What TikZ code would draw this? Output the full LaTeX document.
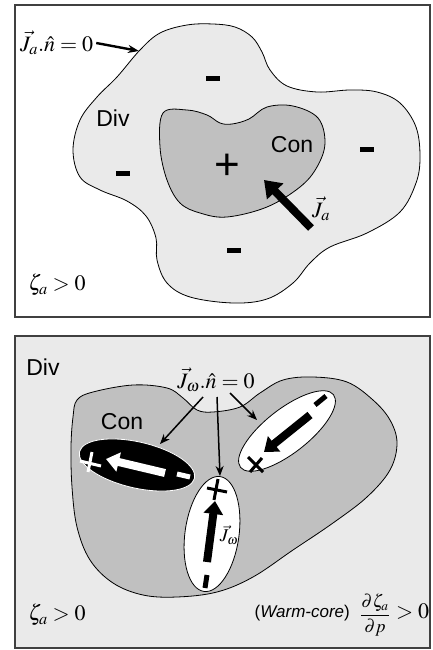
\documentclass[tikz,border=0pt]{standalone}
\usepackage{mathptmx}
\usepackage{fontspec}
\setmainfont{Liberation Sans}
\usetikzlibrary{arrows.meta,calc}
\definecolor{lightfill}{HTML}{EAEAEA}
\definecolor{midfill}{HTML}{C0C0C0}
\definecolor{framecol}{HTML}{404040}
\tikzset{
  frame/.style={draw=framecol, line width=1.2pt},
  blob/.style={draw=black, line width=0.8pt},
  lbl/.style={font=\fontsize{23}{26}\selectfont, inner sep=0pt},
  mth/.style={font=\fontsize{22}{26}\selectfont, inner sep=0pt},
  minusbar/.style={fill=black, minimum width=14pt, minimum height=5pt, inner sep=0pt},
  thinarrow/.style={line width=1.5pt, -{Stealth[length=10pt,width=8pt]}},
  toparrow/.style={line width=2.4pt, -{Stealth[length=11pt,width=8pt]}},
  fatarrow/.style={line width=8pt, -{Triangle[length=16pt,width=22pt]}},
  midarrow/.style={line width=8pt, -{Triangle[length=13pt,width=19pt]}},
  crossline/.style={line width=3pt},
}
\begin{document}
\begin{tikzpicture}[x=1pt,y=-1pt]
\useasboundingbox (0,0) rectangle (433,650);
% ---------- top panel ----------
\draw[frame, fill=white] (15,5) rectangle (430,317);
\draw[blob, fill=lightfill] plot[smooth cycle, tension=0.6] coordinates {
 (140,50) (160,33) (187,25) (213,24) (235,27) (252,37) (262,52) (270,70) (287,86) (317,92)
 (350,90) (377,92) (400,103) (416,127) (420,157) (416,183) (400,212) (367,233)
 (330,247) (310,263) (293,283) (267,299) (233,303) (190,297) (167,283) (157,260)
 (156,238) (146,216) (127,201) (100,190) (80,177) (73,150) (80,120) (97,97) (117,77)};
\draw[blob, fill=midfill] plot[smooth cycle, tension=0.6] coordinates {
 (163,113) (187,110) (207,115) (220,123) (232,124) (249,119) (267,107) (293,106)
 (318,118) (325,143) (317,167) (300,187) (267,207) (227,217) (200,213) (180,203)
 (167,180) (160,147)};
\node[mth, anchor=west] (jn) at (20,43) {$\vec{J}_a.\hat{n}=0$};
\coordinate (jnend) at (139,51);
\draw[toparrow] (jn.east) ++(3,0) -- (jnend);
\node[lbl] (div1) at (113,118) {Div};
\node[lbl] (con1) at (292,145) {Con};
\node[font=\fontsize{44}{44}\selectfont, inner sep=0pt] (plus1) at (227,167) {+};
\node[minusbar] (m1) at (213,79) {};
\node[minusbar] (m2) at (123,173) {};
\node[minusbar] (m3) at (367,149) {};
\node[minusbar] (m4) at (234,250) {};
\coordinate (jatail) at (311,228);
\coordinate (jahead) at (264,180);
\draw[fatarrow] (jatail) -- (jahead);
\node[mth] (ja) at (321,209) {$\vec{J}_a$};
\node[mth] (zeta1) at (57,285) {$\zeta_a>0$};
% ---------- bottom panel ----------
\draw[frame, fill=lightfill] (15,336) rectangle (430,648);
\node[lbl] (div2) at (43,367) {Div};
\draw[blob, fill=midfill] plot[smooth cycle, tension=0.6] coordinates {
 (77,400) (93,392) (133,385) (167,388) (183,398) (197,410) (213,412) (240,407)
 (260,393) (283,380) (313,377) (347,382) (373,400) (390,420) (397,443) (390,470)
 (367,497) (333,523) (293,550) (253,577) (217,592) (177,597) (143,595) (113,583)
 (90,560) (77,527) (72,487) (71,447) (73,417)};
\node[lbl] (con2) at (122,422) {Con};
% ellipses
\coordinate (ebc) at (137,465);
\coordinate (evc) at (212,534);
\coordinate (erc) at (287,431);
\draw[draw=white, line width=0.8pt, fill=black, rotate around={-13:(ebc)}] (ebc) ellipse (59 and 23);
\draw[draw=black, line width=0.8pt, fill=white, rotate around={82:(evc)}] (evc) ellipse (58 and 27);
\draw[draw=black, line width=0.8pt, fill=white, rotate around={38:(erc)}] (erc) ellipse (59 and 22);
% black ellipse content
\draw[crossline, white] (92,452) -- (88,472);
\draw[crossline, white] (80,461) -- (101,466);
\draw[line width=5pt, white] (177,474) -- (190,477);
\coordinate (wtail) at (165,473);
\coordinate (whead) at (106,459);
\draw[midarrow, white] (wtail) -- (whead);
% vertical ellipse content
\draw[crossline, black] (207,488) -- (227,492);
\draw[crossline, black] (218,479) -- (214,500);
\draw[line width=5pt, black] (207,575) -- (205,588);
\coordinate (vtail) at (207,562);
\coordinate (vhead) at (215,501);
\draw[midarrow, black] (vtail) -- (vhead);
\node[font=\fontsize{18}{20}\selectfont, inner sep=0pt] (jw) at (229,535) {$\vec{J}_\omega$};
% right ellipse content
\draw[line width=5pt, black] (326,396) -- (315,405);
\coordinate (rtail) at (310,415);
\coordinate (rhead) at (264,452);
\draw[midarrow, black] (rtail) -- (rhead);
\draw[crossline, black] (248,457) -- (263,472);
\draw[crossline, black] (250,472) -- (262,458);
% label and arrows
\node[mth] (jwn) at (216,380) {$\vec{J}_\omega.\hat{n}=0$};
\coordinate (a1s) at (203,397);
\coordinate (a1e) at (160,444);
\coordinate (a2s) at (217,397);
\coordinate (a2e) at (220,476);
\coordinate (a3s) at (230,393);
\coordinate (a3e) at (257,420);
\draw[thinarrow] (a1s) -- (a1e);
\draw[thinarrow] (a2s) -- (a2e);
\draw[thinarrow] (a3s) -- (a3e);
\node[mth] (zeta2) at (57,615) {$\zeta_a>0$};
\node[inner sep=0pt, font=\fontsize{17}{19}\selectfont, anchor=east] (warm) at (350,613) {(\textit{Warm-core})};
\node[inner sep=0pt, font=\fontsize{18}{21}\selectfont, anchor=west] (frac) at (360,615)
 {$\displaystyle\frac{\partial\zeta_a}{\partial p}$};
\node[mth, anchor=west] (gt) at (396,612) {$>0$};
\end{tikzpicture}
\end{document}
